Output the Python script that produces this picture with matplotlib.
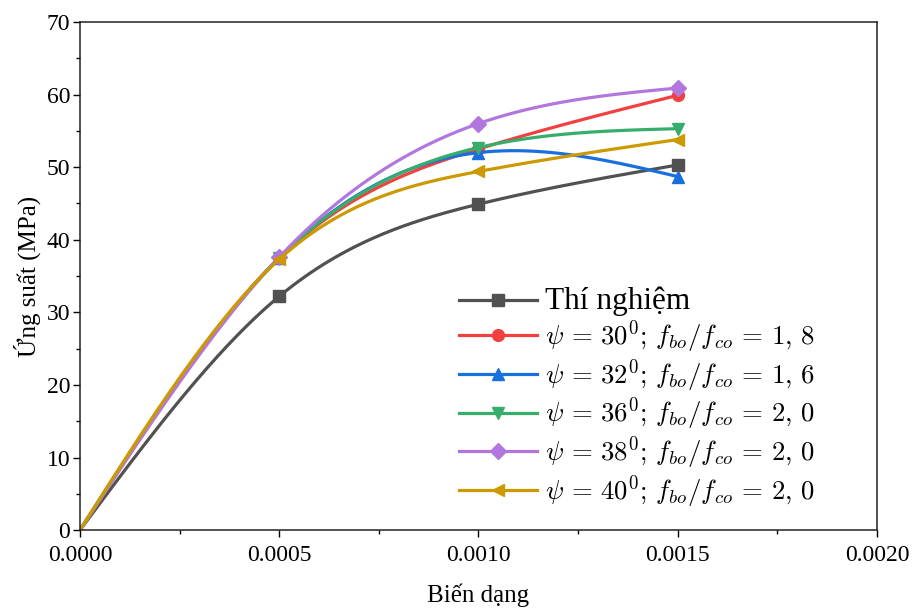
import numpy as np
import matplotlib
matplotlib.use("Agg")
import matplotlib.pyplot as plt

plt.rcParams["font.family"] = ["Liberation Serif", "DejaVu Serif"]
plt.rcParams["mathtext.fontset"] = "cm"

strain = [0.0, 0.0005, 0.0010, 0.0015]
thi_nghiem = [0.0, 32.2, 44.9, 50.3]
psi30 = [0.0, 37.5, 52.5, 59.9]
psi32 = [0.0, 37.5, 52.0, 48.7]
psi36 = [0.0, 37.5, 52.7, 55.3]
psi38 = [0.0, 37.6, 56.0, 60.9]
psi40 = [0.0, 37.3, 49.4, 53.8]

labels = [
    "Thí nghiệm",
    r"$\psi\,=\,30^0;\,f_{bo}/f_{co}\,=\,1,\,8$",
    r"$\psi\,=\,32^0;\,f_{bo}/f_{co}\,=\,1,\,6$",
    r"$\psi\,=\,36^0;\,f_{bo}/f_{co}\,=\,2,\,0$",
    r"$\psi\,=\,38^0;\,f_{bo}/f_{co}\,=\,2,\,0$",
    r"$\psi\,=\,40^0;\,f_{bo}/f_{co}\,=\,2,\,0$",
]
series = [thi_nghiem, psi30, psi32, psi36, psi38, psi40]
colors = ["#515151", "#F14040", "#1A6FDF", "#37AD6B", "#B177DE", "#CC9900"]
markers = ["s", "o", "^", "v", "D", "<"]


def natural_spline(xs, ys, xn):
    # natural cubic spline, x scaled to keep numbers sane
    x = np.asarray(xs) * 1e4
    y = np.asarray(ys, dtype=float)
    t = np.asarray(xn) * 1e4
    n = len(x)
    h = np.diff(x)
    A = np.zeros((n, n))
    b = np.zeros(n)
    A[0, 0] = A[-1, -1] = 1
    for i in range(1, n - 1):
        A[i, i - 1] = h[i - 1]
        A[i, i] = 2 * (h[i - 1] + h[i])
        A[i, i + 1] = h[i]
        b[i] = 6 * ((y[i + 1] - y[i]) / h[i] - (y[i] - y[i - 1]) / h[i - 1])
    M = np.linalg.solve(A, b)
    k = np.clip(np.searchsorted(x, t) - 1, 0, n - 2)
    hk = h[k]
    a = x[k + 1] - t
    c = t - x[k]
    return (M[k] * a**3 / (6 * hk) + M[k + 1] * c**3 / (6 * hk)
            + (y[k] / hk - M[k] * hk / 6) * a
            + (y[k + 1] / hk - M[k + 1] * hk / 6) * c)


xs = np.linspace(0, 0.0015, 301)

fig = plt.figure(figsize=(9.14, 6.10), dpi=100)
ax = fig.add_axes([0.0875, 0.131, 0.872, 0.833])

for ys, lab, col, mk in zip(series, labels, colors, markers):
    ax.plot(xs, natural_spline(strain, ys, xs), color=col, lw=2.3,
            marker=mk, ms=8.5, markevery=[100, 200, 300], label=lab)

ax.set_xlim(0, 0.002)
ax.set_ylim(0, 70)
ax.set_xticks(np.arange(0, 0.00201, 0.0005))
ax.set_xticks(np.arange(0, 0.00201, 0.00025), minor=True)
ax.set_yticks(np.arange(0, 71, 10))
ax.set_yticks(np.arange(0, 71, 5), minor=True)
ax.xaxis.set_major_formatter(matplotlib.ticker.FormatStrFormatter("%.4f"))
ax.tick_params(which="major", direction="out", length=5, width=1, labelsize=17)
ax.tick_params(axis="x", which="major", pad=6)
ax.tick_params(axis="y", which="major", pad=2)
ax.tick_params(which="minor", direction="out", length=3, width=1)
for s in ax.spines.values():
    s.set_linewidth(1.1)
    s.set_color("#222222")

ax.set_xlabel("Biến dạng", fontsize=18, labelpad=12)
ax.set_ylabel("Ứng suất (MPa)", fontsize=18, labelpad=4)

leg = ax.legend(loc="lower right", bbox_to_anchor=(0.952, -0.008), frameon=False,
                fontsize=19.3, handlelength=2.9, handletextpad=0.3,
                labelspacing=0.08)
leg.get_texts()[0].set_fontsize(22.5)

fig.savefig("out.png", dpi=100)
